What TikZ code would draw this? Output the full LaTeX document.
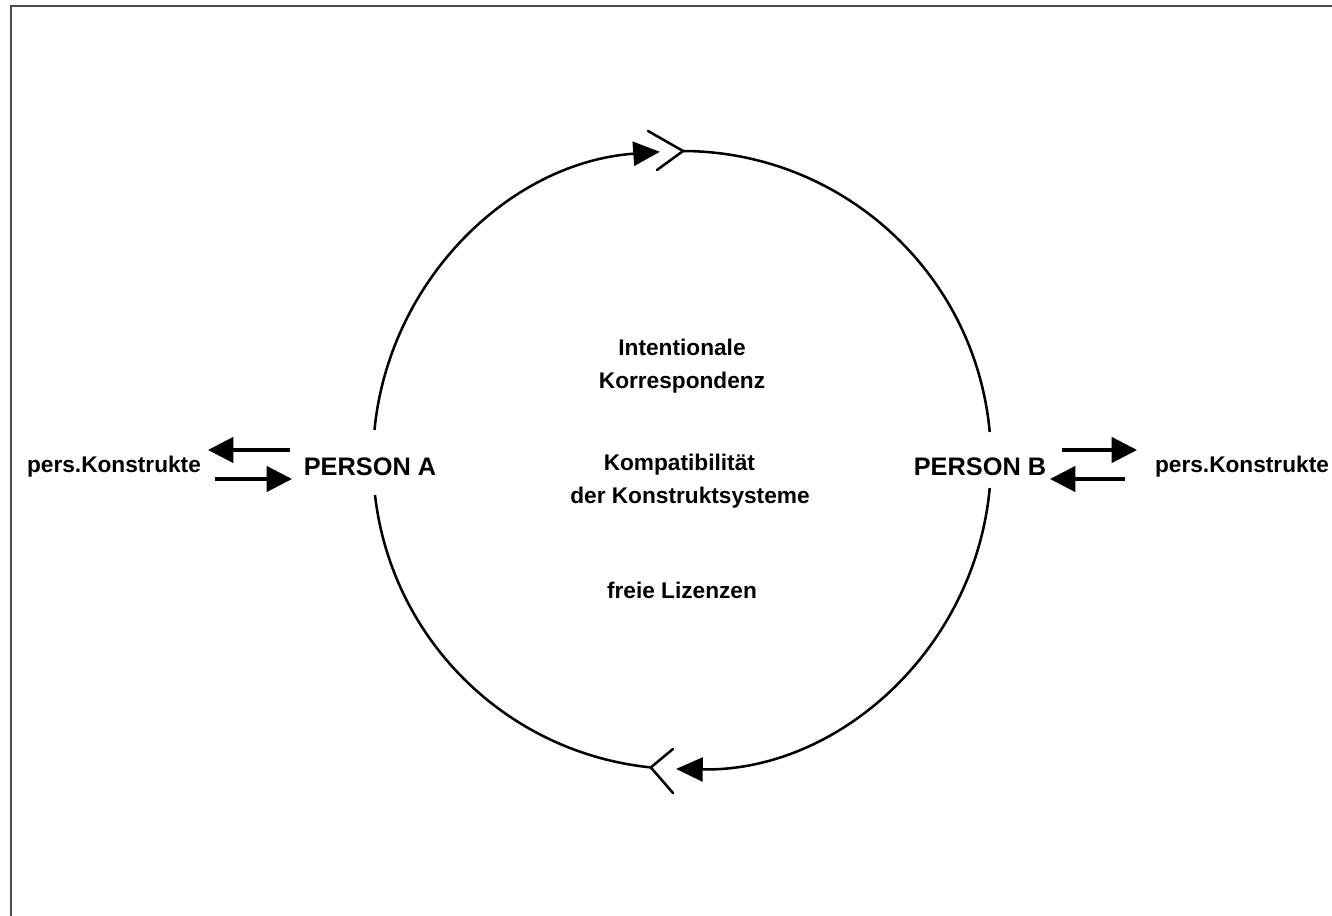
\documentclass[tikz,border=0pt]{standalone}
\usepackage{fontspec}
\setmainfont{Liberation Sans}
\usetikzlibrary{arrows.meta}
\begin{document}
\begin{tikzpicture}[x=0.75pt,y=0.75pt,
  lbl/.style={font=\bfseries\fontsize{17}{24.75}\selectfont, align=center, inner sep=0},
  pers/.style={font=\bfseries\fontsize{19}{23}\selectfont, inner sep=0},
  konst/.style={font=\bfseries\fontsize{17}{20}\selectfont, inner sep=0},
  ring/.style={line width=1.9pt},
  ringtip/.style={ring, -{Triangle[length=20pt,width=18pt]}},
  fork/.style={line width=1.9pt, line cap=round},
  flow/.style={line width=2.4pt, -{Triangle[length=19pt,width=19pt]}},
  frame/.style={draw=gray!60!black, line width=1.5pt}
]
\useasboundingbox (0,0) rectangle (1332,915);
\draw[frame] (11,-5) -- (11,909) -- (1340,909);
\coordinate (c) at (682,455);
% circle, clockwise
\draw[ringtip] ([shift={(174.4:309)}]c) arc[start angle=174.4, end angle=94.1, radius=309];
\draw[ring] ([shift={(89.8:309)}]c) arc[start angle=89.8, end angle=5.2, radius=309];
\draw[ringtip] ([shift={(-5.2:309)}]c) arc[start angle=-5.2, end angle=-91.1, radius=309];
\draw[ring] ([shift={(-95.8:309)}]c) arc[start angle=-95.8, end angle=-173.5, radius=309];
% forks (tails)
\coordinate (ft) at ([shift={(89.8:309)}]c);
\draw[fork] (648,784) -- (ft) -- (657,745);
\coordinate (fb) at ([shift={(-95.8:309)}]c);
\draw[fork] (673,166) -- (fb) -- (673,122);
% texts
\node[lbl] (intent) at (682,549) {Intentionale\\Korrespondenz};
\node[lbl] (kompat) at (690,433.5) {\hspace*{-16pt}Kompatibilität\\der Konstruktsysteme};
\node[lbl] (lizenz) at (682,325) {freie Lizenzen};
\node[pers] (pa) at (370,448) {PERSON A};
\node[pers] (pb) at (980,448) {PERSON B};
\node[konst] (kl) at (114,448) {pers.Konstrukte};
\node[konst] (kr) at (1242,448) {pers.Konstrukte};
% exchange arrows
\coordinate (a1s) at (290,465); \coordinate (a1e) at (208,465);
\coordinate (a2s) at (215,436); \coordinate (a2e) at (292,436);
\coordinate (b1s) at (1062,465); \coordinate (b1e) at (1137,465);
\coordinate (b2s) at (1125,436); \coordinate (b2e) at (1050,436);
\draw[flow] (a1s) -- (a1e);
\draw[flow] (a2s) -- (a2e);
\draw[flow] (b1s) -- (b1e);
\draw[flow] (b2s) -- (b2e);
\end{tikzpicture}
\end{document}
